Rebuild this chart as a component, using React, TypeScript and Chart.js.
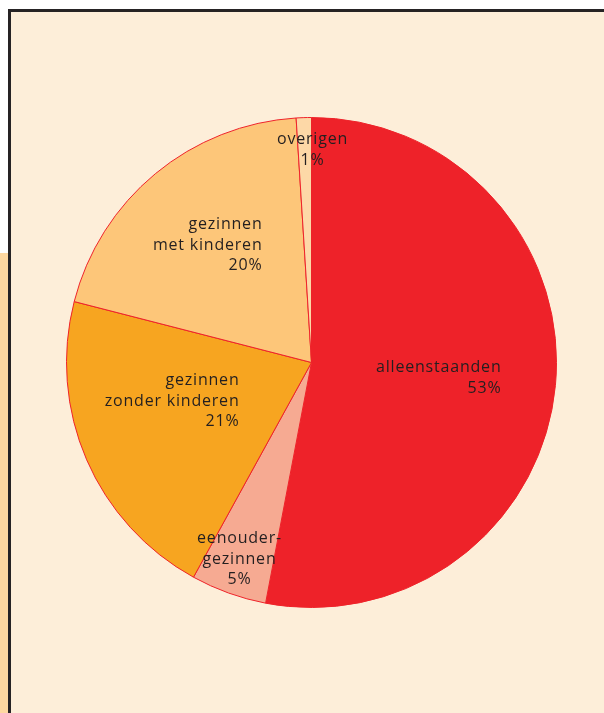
import React, { useEffect, useRef } from "react";
import { Chart, registerables } from "chart.js";

Chart.register(...registerables);

const categories = [
  "alleenstaanden",
  "eenoudergezinnen",
  "gezinnen zonder kinderen",
  "gezinnen met kinderen",
  "overigen",
];
const shares = [53, 5, 21, 20, 1];
const sliceColors = ["#ee2229", "#f6aa92", "#f7a520", "#fdc679", "#fdd8a7"];
const labelLines = [
  ["alleenstaanden", "53%"],
  ["eenouder-", "gezinnen", "5%"],
  ["gezinnen", "zonder kinderen", "21%"],
  ["gezinnen", "met kinderen", "20%"],
  ["overigen", "1%"],
];
// label anchor offsets from pie centre (px) and alignment
const labelAnchors: { dx: number; dy: number; align: CanvasTextAlign }[] = [
  { dx: 190, dy: 5, align: "right" },
  { dx: -72, dy: 176, align: "center" },
  { dx: -72, dy: 18, align: "right" },
  { dx: -49, dy: -138, align: "right" },
  { dx: 1, dy: -223, align: "center" },
];

const labelPlugin = {
  id: "sliceLabels",
  afterDatasetsDraw(chart: any) {
    const meta = chart.getDatasetMeta(0);
    const arc = meta.data[0];
    if (!arc) return;
    const cx = arc.x;
    const cy = arc.y;
    const ctx = chart.ctx;
    ctx.save();
    ctx.fillStyle = "#231f20";
    ctx.font = "16px 'Open Sans'";
    try {
      (ctx as any).letterSpacing = "0.8px";
    } catch (e) {}
    ctx.textBaseline = "middle";
    labelLines.forEach((lines, i) => {
      const a = labelAnchors[i];
      ctx.textAlign = a.align;
      lines.forEach((t, j) => {
        ctx.fillText(t, cx + a.dx, cy + a.dy + j * 20.5);
      });
    });
    ctx.restore();
  },
};

export default function App() {
  const ref = useRef<HTMLCanvasElement | null>(null);
  useEffect(() => {
    const prevMargin = document.body.style.margin;
    document.body.style.margin = "0";
    const chart = new Chart(ref.current as HTMLCanvasElement, {
      type: "pie",
      data: {
        labels: categories,
        datasets: [
          {
            data: shares,
            backgroundColor: sliceColors,
            borderColor: "#ee2229",
            borderWidth: 1,
          },
        ],
      },
      options: {
        responsive: false,
        animation: false,
        events: [],
        layout: { padding: 5 },
        plugins: {
          legend: { display: false },
          tooltip: { enabled: false },
        },
      },
      plugins: [labelPlugin],
    });
    return () => {
      chart.destroy();
      document.body.style.margin = prevMargin;
    };
  }, []);

  return (
    <div
      style={{
        position: "relative",
        width: 604,
        height: 713,
        overflow: "hidden",
        background: "#ffffff",
      }}
    >
      <div
        style={{
          position: "absolute",
          left: 0,
          top: 253,
          width: 10,
          height: 500,
          background: "#fed8a0",
        }}
      />
      <div
        style={{
          position: "absolute",
          left: 8,
          top: 9,
          width: 700,
          height: 800,
          background: "#fdeed9",
          borderLeft: "3px solid #262324",
          borderTop: "3px solid #262324",
        }}
      />
      <canvas
        ref={ref}
        width={501}
        height={501}
        style={{ position: "absolute", left: 61, top: 112 }}
      />
    </div>
  );
}
